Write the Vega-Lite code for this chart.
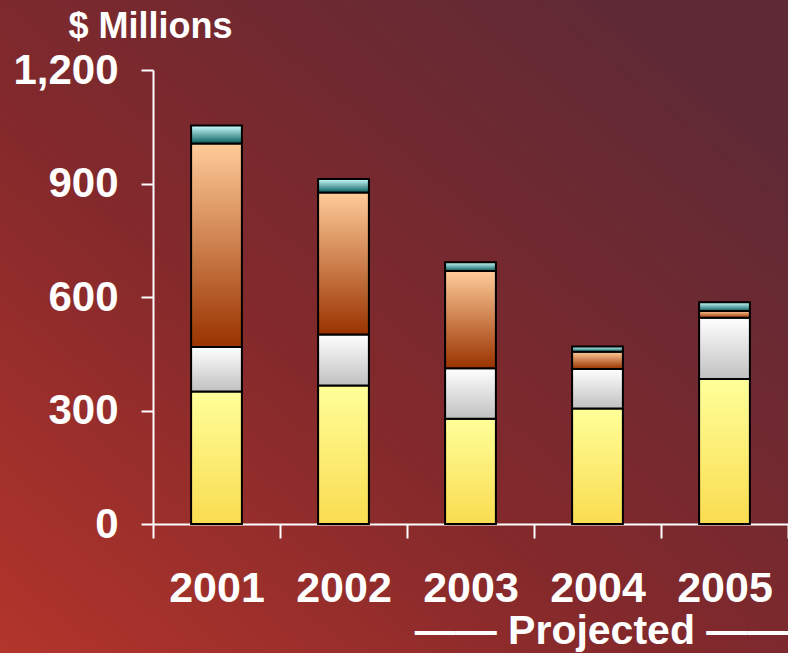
{
  "$schema": "https://vega.github.io/schema/vega-lite/v6.json",
  "width": 788,
  "height": 653,
  "autosize": {"type": "none"},
  "padding": 0,
  "background": "#7a2b2d",
  "config": {
    "font": "Liberation Sans",
    "view": {
      "stroke": null,
      "fill": {"gradient": "linear", "x1": 0, "y1": 1, "x2": 0.9, "y2": 0.1,
        "stops": [
          {"offset": 0, "color": "#b3352b"},
          {"offset": 0.45, "color": "#84292b"},
          {"offset": 1, "color": "#5e2a36"}
        ]}
    }
  },
  "data": {
    "values": [
      {"year": "2001", "series": "A", "order": 1, "value": 350},
      {"year": "2001", "series": "B", "order": 2, "value": 118},
      {"year": "2001", "series": "C", "order": 3, "value": 538},
      {"year": "2001", "series": "D", "order": 4, "value": 47},
      {"year": "2002", "series": "A", "order": 1, "value": 366},
      {"year": "2002", "series": "B", "order": 2, "value": 135},
      {"year": "2002", "series": "C", "order": 3, "value": 375},
      {"year": "2002", "series": "D", "order": 4, "value": 36},
      {"year": "2003", "series": "A", "order": 1, "value": 278},
      {"year": "2003", "series": "B", "order": 2, "value": 134},
      {"year": "2003", "series": "C", "order": 3, "value": 257},
      {"year": "2003", "series": "D", "order": 4, "value": 23},
      {"year": "2004", "series": "A", "order": 1, "value": 305},
      {"year": "2004", "series": "B", "order": 2, "value": 105},
      {"year": "2004", "series": "C", "order": 3, "value": 45},
      {"year": "2004", "series": "D", "order": 4, "value": 14},
      {"year": "2005", "series": "A", "order": 1, "value": 383},
      {"year": "2005", "series": "B", "order": 2, "value": 162},
      {"year": "2005", "series": "C", "order": 3, "value": 18},
      {"year": "2005", "series": "D", "order": 4, "value": 23}
    ]
  },
  "transform": [
    {"stack": "value", "groupby": ["year"], "sort": [{"field": "order", "order": "ascending"}], "as": ["y0", "y1"]}
  ],
  "encoding": {
    "x": {
      "field": "year",
      "type": "ordinal",
      "scale": {"paddingInner": 0, "paddingOuter": 0, "range": [153, 788]},
      "axis": {
        "offset": -129,
        "labelAngle": 0,
        "labelFontSize": 43,
        "labelFontWeight": "bold",
        "labelColor": "#ffffff",
        "labelPadding": 29,
        "tickBand": "extent",
        "tickSize": 14,
        "tickWidth": 2,
        "tickColor": "#ffffff",
        "domainColor": "#ffffff",
        "domainWidth": 2,
        "title": "——  Projected  ——",
        "titleFontSize": 41,
        "titleFontWeight": "bold",
        "titleColor": "#ffffff",
        "titleX": 601,
        "titleY": 119,
        "titleAlign": "center",
        "titleBaseline": "alphabetic"
      }
    },
    "y": {
      "field": "y1",
      "type": "quantitative",
      "scale": {"domain": [0, 1200], "range": [524, 70]},
      "axis": {
        "offset": -153,
        "values": [0, 300, 600, 900, 1200],
        "format": ",d",
        "grid": false,
        "labelFontSize": 42,
        "labelFontWeight": "bold",
        "labelColor": "#ffffff",
        "labelPadding": 23,
        "tickSize": 12,
        "tickWidth": 2,
        "tickColor": "#ffffff",
        "domainColor": "#ffffff",
        "domainWidth": 2,
        "title": "$ Millions",
        "titleAngle": 0,
        "titleFontSize": 36,
        "titleFontWeight": "bold",
        "titleColor": "#ffffff",
        "titleX": -3,
        "titleY": 37,
        "titleAlign": "center",
        "titleBaseline": "alphabetic"
      }
    },
    "y2": {"field": "y0"}
  },
  "layer": [
    {
      "transform": [{"filter": "datum.series === 'A'"}],
      "mark": {"type": "bar", "width": {"band": 0.4}, "stroke": "#000000", "strokeWidth": 2,
        "fill": {"gradient": "linear", "x1": 0, "y1": 0, "x2": 0, "y2": 1,
          "stops": [{"offset": 0, "color": "#ffff99"}, {"offset": 1, "color": "#f9dc50"}]}}
    },
    {
      "transform": [{"filter": "datum.series === 'B'"}],
      "mark": {"type": "bar", "width": {"band": 0.4}, "stroke": "#000000", "strokeWidth": 2,
        "fill": {"gradient": "linear", "x1": 0, "y1": 0, "x2": 0, "y2": 1,
          "stops": [{"offset": 0, "color": "#ffffff"}, {"offset": 1, "color": "#c0c0c0"}]}}
    },
    {
      "transform": [{"filter": "datum.series === 'C'"}],
      "mark": {"type": "bar", "width": {"band": 0.4}, "stroke": "#000000", "strokeWidth": 2,
        "fill": {"gradient": "linear", "x1": 0, "y1": 0, "x2": 0, "y2": 1,
          "stops": [{"offset": 0, "color": "#ffcc99"}, {"offset": 1, "color": "#993300"}]}}
    },
    {
      "transform": [{"filter": "datum.series === 'D'"}],
      "mark": {"type": "bar", "width": {"band": 0.4}, "stroke": "#000000", "strokeWidth": 2,
        "fill": {"gradient": "linear", "x1": 0, "y1": 0, "x2": 0, "y2": 1,
          "stops": [{"offset": 0, "color": "#ccffff"}, {"offset": 1, "color": "#0b5f5f"}]}}
    }
  ]
}
